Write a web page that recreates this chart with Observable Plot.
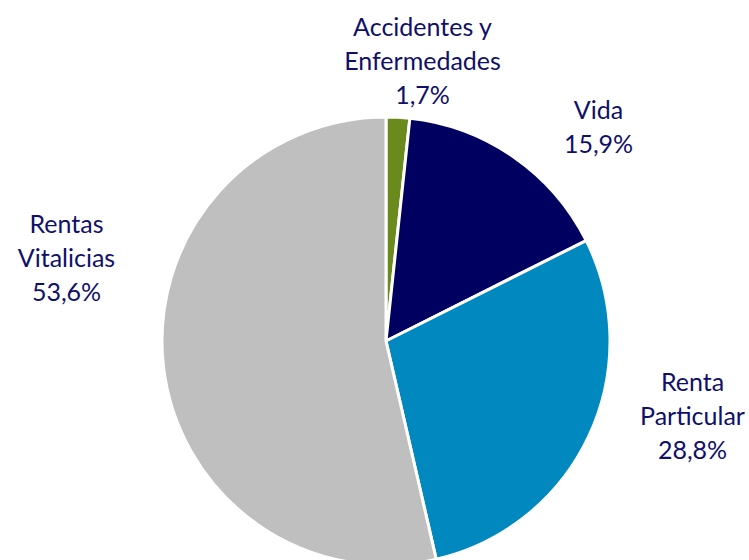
<!DOCTYPE html>
<html>
<head>
<meta charset="utf-8">
<script src="https://cdn.jsdelivr.net/npm/d3@7"></script>
<script src="https://cdn.jsdelivr.net/npm/@observablehq/plot@0.6"></script>
<style>
  html, body { margin: 0; padding: 0; background: #fff; }
</style>
</head>
<body>
<div id="chart"></div>
<script>
// Data
const categories = ["Accidentes y\nEnfermedades", "Vida", "Renta\nParticular", "Rentas\nVitalicias"];
const shares = [1.7, 15.9, 28.8, 53.6];
const colors = ["#6a8a1e", "#000060", "#0088bf", "#bfbfbf"];

// Layout (pixel frame of the page)
const W = 749, H = 560;
const center = {x: 386, y: 341};
const radius = 224;
const labelX = [422, 598, 692, 66];
const labelY = [59, 125, 414, 256];

const fmt = v => v.toFixed(1).replace(".", ",") + "%";
const table = categories.map((c, i) => ({
  name: c, value: shares[i], color: colors[i],
  label: c + "\n" + fmt(shares[i]), lx: labelX[i], ly: labelY[i]
}));

const pie = d3.pie().sort(null).value(d => d.value).startAngle(0);
const arcs = pie(table);

function pieMark(index, scales, values, dimensions, context) {
  const cx = scales.x(center.x), cy = scales.y(center.y);
  const r = Math.abs(scales.x(center.x + radius) - cx);
  const arc = d3.arc().innerRadius(0).outerRadius(r);
  const g = d3.create("svg:g").attr("transform", `translate(${cx},${cy})`);
  g.selectAll("path").data(arcs).join("path")
    .attr("d", arc)
    .attr("fill", d => d.data.color)
    .attr("stroke", "#fff")
    .attr("stroke-width", 3)
    .attr("stroke-linejoin", "round");
  return g.node();
}

const chart = Plot.plot({
  width: W, height: H,
  margin: 0,
  x: {domain: [0, W], range: [0, W], axis: null},
  y: {domain: [0, H], range: [0, H], axis: null},
  style: {background: "#fff", fontFamily: "Lato, sans-serif"},
  marks: [
    pieMark,
    Plot.text(table, {
      x: "lx", y: "ly", text: "label",
      fill: "#10106a", fontSize: 25, lineHeight: 1.36,
      textAnchor: "middle", lineAnchor: "middle", fontFamily: "Lato, sans-serif"
    })
  ]
});
document.getElementById("chart").appendChild(chart);
</script>
</body>
</html>
